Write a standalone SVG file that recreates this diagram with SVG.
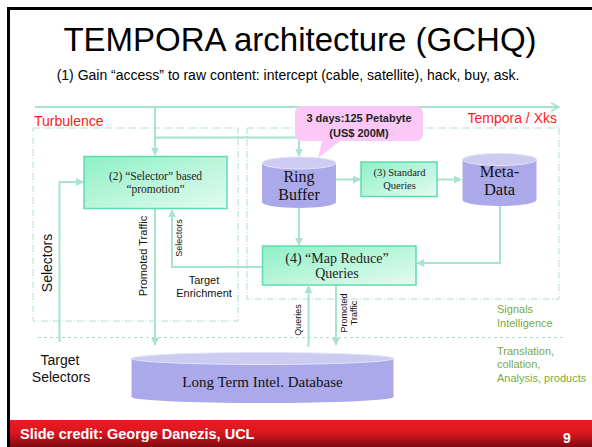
<svg xmlns="http://www.w3.org/2000/svg" width="592" height="447" viewBox="0 0 592 447">
<defs>
<linearGradient id="boxg" x1="0" y1="0" x2="1" y2="1">
<stop offset="0" stop-color="#8ef0c6"/>
<stop offset="1" stop-color="#e4fbf1"/>
</linearGradient>
<linearGradient id="foot" x1="0" y1="0" x2="0" y2="1">
<stop offset="0" stop-color="#ec1c24"/>
<stop offset="0.5" stop-color="#d8161f"/>
<stop offset="1" stop-color="#7e0a10"/>
</linearGradient>
<marker id="ah" viewBox="0 0 10 10" refX="9" refY="5" markerWidth="4" markerHeight="4" orient="auto">
<path d="M0,0 L10,5 L0,10 z" fill="#a6e4cb"/>
</marker>
<marker id="ao" viewBox="0 0 10 10" refX="9" refY="5" markerWidth="5" markerHeight="5" orient="auto">
<path d="M1,1 L9,5 L1,9" fill="none" stroke="#a6e4cb" stroke-width="1.6"/>
</marker>
</defs>
<style>
.sans{font-family:"Liberation Sans",Arial,sans-serif}
.serif{font-family:"Liberation Serif","Times New Roman",serif}
.box{fill:url(#boxg);stroke:#5edcae;stroke-width:1.5}
.cyl{fill:#aba9e9}
.cyltop{fill:#cdcbf2;stroke:#e4e3f8;stroke-width:1}
.con{fill:none;stroke:#a6e4cb;stroke-width:2}
.dd{fill:none;stroke:#b2dece;stroke-width:1;stroke-dasharray:7 2 1 2}
.dash{fill:none;stroke:#b2dece;stroke-width:1;stroke-dasharray:3 3}
.red{fill:#ff1a1a}
.grn{fill:#7aaa3e}
</style>
<rect x="0" y="0" width="592" height="447" fill="#ffffff"/>
<path d="M7,8.5 H592 M8.5,7 V447" stroke="#000" stroke-width="3" fill="none"/>

<text x="300" y="51" text-anchor="middle" class="sans" font-size="33" fill="#000">TEMPORA architecture (GCHQ)</text>
<text x="288" y="80" text-anchor="middle" class="sans" font-size="14" fill="#000">(1) Gain “access” to raw content: intercept (cable, satellite), hack, buy, ask.</text>

<g id="regions">
<rect x="33" y="128" width="205" height="193" class="dd"/>
<rect x="247" y="128" width="312" height="171" class="dd"/>
<line x1="38" y1="337.5" x2="563" y2="337.5" class="dash"/>
</g>

<g id="connectors">
<line x1="35" y1="107" x2="559" y2="107" class="con" marker-end="url(#ao)"/>
<line x1="155" y1="107" x2="155" y2="155" class="con" marker-end="url(#ah)"/>
<polyline points="155,137.5 299,137.5 299,156" class="con" marker-end="url(#ah)"/>
<line x1="336" y1="179.5" x2="360" y2="179.5" class="con" marker-end="url(#ah)"/>
<line x1="437" y1="179.5" x2="461" y2="179.5" class="con" marker-end="url(#ah)"/>
<polyline points="500,206 500,263 417,263" class="con" marker-end="url(#ah)"/>
<line x1="299" y1="208" x2="299" y2="245" class="con" marker-end="url(#ah)"/>
<polyline points="262,267 172,267 172,210" class="con" marker-end="url(#ah)"/>
<line x1="155" y1="209" x2="155" y2="345" class="con" marker-end="url(#ah)"/>
<polyline points="59.5,342 59.5,182 83,182" class="con" marker-end="url(#ah)"/>
<line x1="308.5" y1="347" x2="308.5" y2="286" class="con" marker-end="url(#ah)"/>
<line x1="336" y1="285" x2="336" y2="345" class="con" marker-end="url(#ah)"/>
</g>

<g id="callout">
<path d="M303,106 H415 Q423,106 423,114 V133 Q423,141 415,141 H340 L318,158 L322,141 H303 Q295,141 295,133 V114 Q295,106 303,106 Z" fill="#fbc8f7"/>
<text x="359" y="122" text-anchor="middle" class="sans" font-size="11" font-weight="bold" fill="#222">3 days:125 Petabyte</text>
<text x="359" y="137" text-anchor="middle" class="sans" font-size="11" font-weight="bold" fill="#222">(US$ 200M)</text>
</g>

<g id="selector-box">
<rect x="84" y="156.5" width="143" height="52" class="box"/>
<text x="155.5" y="180" text-anchor="middle" class="serif" font-size="11.5" fill="#222">(2) “Selector” based</text>
<text x="155.5" y="193" text-anchor="middle" class="serif" font-size="11.5" fill="#222">“promotion”</text>
</g>

<g id="ring-buffer">
<path d="M262,163 V202 A37,6 0 0 0 336,202 V163 Z" class="cyl"/>
<ellipse cx="299" cy="163" rx="37" ry="6" class="cyltop"/>
<text x="299" y="182" text-anchor="middle" class="serif" font-size="16" fill="#111">Ring</text>
<text x="299" y="200" text-anchor="middle" class="serif" font-size="16" fill="#111">Buffer</text>
</g>

<g id="standard-queries">
<rect x="361" y="162" width="76" height="34.5" class="box"/>
<text x="399.5" y="176" text-anchor="middle" class="serif" font-size="10.5" fill="#222">(3) Standard</text>
<text x="399.5" y="189" text-anchor="middle" class="serif" font-size="10.5" fill="#222">Queries</text>
</g>

<g id="meta-data">
<path d="M462.5,159.5 V200 A37,6 0 0 0 536.5,200 V159.5 Z" class="cyl"/>
<ellipse cx="499.5" cy="159.5" rx="37" ry="6" class="cyltop"/>
<text x="499.5" y="177" text-anchor="middle" class="serif" font-size="16.5" fill="#111">Meta-</text>
<text x="499.5" y="195" text-anchor="middle" class="serif" font-size="16.5" fill="#111">Data</text>
</g>

<g id="map-reduce">
<rect x="262.5" y="246" width="153.5" height="39" class="box"/>
<text x="337" y="263" text-anchor="middle" class="serif" font-size="14" fill="#222">(4) “Map Reduce”</text>
<text x="337" y="278" text-anchor="middle" class="serif" font-size="14" fill="#222">Queries</text>
</g>

<g id="long-term-db">
<path d="M131.5,358.5 V397 A131,6 0 0 0 393.5,397 V358.5 Z" class="cyl"/>
<ellipse cx="262.5" cy="358.5" rx="131" ry="6" class="cyltop"/>
<text x="262.5" y="387" text-anchor="middle" class="serif" font-size="15" fill="#111">Long Term Intel. Database</text>
</g>

<g id="labels">
<text x="34" y="125.5" class="sans red" font-size="14">Turbulence</text>
<text x="557" y="123" text-anchor="end" class="sans red" font-size="14">Tempora / Xks</text>
<text transform="translate(52,263) rotate(-90)" text-anchor="middle" class="sans" font-size="14" fill="#111">Selectors</text>
<text transform="translate(147,256) rotate(-90)" text-anchor="middle" class="sans" font-size="11" fill="#111">Promoted Traffic</text>
<text transform="translate(182,238) rotate(-90)" text-anchor="middle" class="sans" font-size="9" fill="#111">Selectors</text>
<text x="204" y="284" text-anchor="middle" class="sans" font-size="11" fill="#111">Target</text>
<text x="204" y="297" text-anchor="middle" class="sans" font-size="11" fill="#111">Enrichment</text>
<text transform="translate(301,320) rotate(-90)" text-anchor="middle" class="sans" font-size="9" fill="#111">Queries</text>
<text transform="translate(347,313) rotate(-90)" text-anchor="middle" class="sans" font-size="9" fill="#111">Promoted</text>
<text transform="translate(357,313) rotate(-90)" text-anchor="middle" class="sans" font-size="9" fill="#111">Traffic</text>
<text x="60" y="365" text-anchor="middle" class="sans" font-size="14" fill="#111">Target</text>
<text x="61" y="382" text-anchor="middle" class="sans" font-size="14" fill="#111">Selectors</text>
<text x="497" y="313" class="sans grn" font-size="11">Signals</text>
<text x="497" y="327" class="sans grn" font-size="11">Intelligence</text>
<text x="497" y="355" class="sans grn" font-size="11">Translation,</text>
<text x="497" y="368" class="sans grn" font-size="11">collation,</text>
<text x="497" y="382" class="sans grn" font-size="11">Analysis, products</text>
</g>

<g id="footer">
<rect x="10" y="420" width="582" height="27" fill="url(#foot)"/>
<text x="20" y="439" class="sans" font-size="14.5" font-weight="bold" fill="#fff">Slide credit: George Danezis, UCL</text>
<text x="567" y="443" text-anchor="middle" class="sans" font-size="14" font-weight="bold" fill="#fff">9</text>
</g>
</svg>
